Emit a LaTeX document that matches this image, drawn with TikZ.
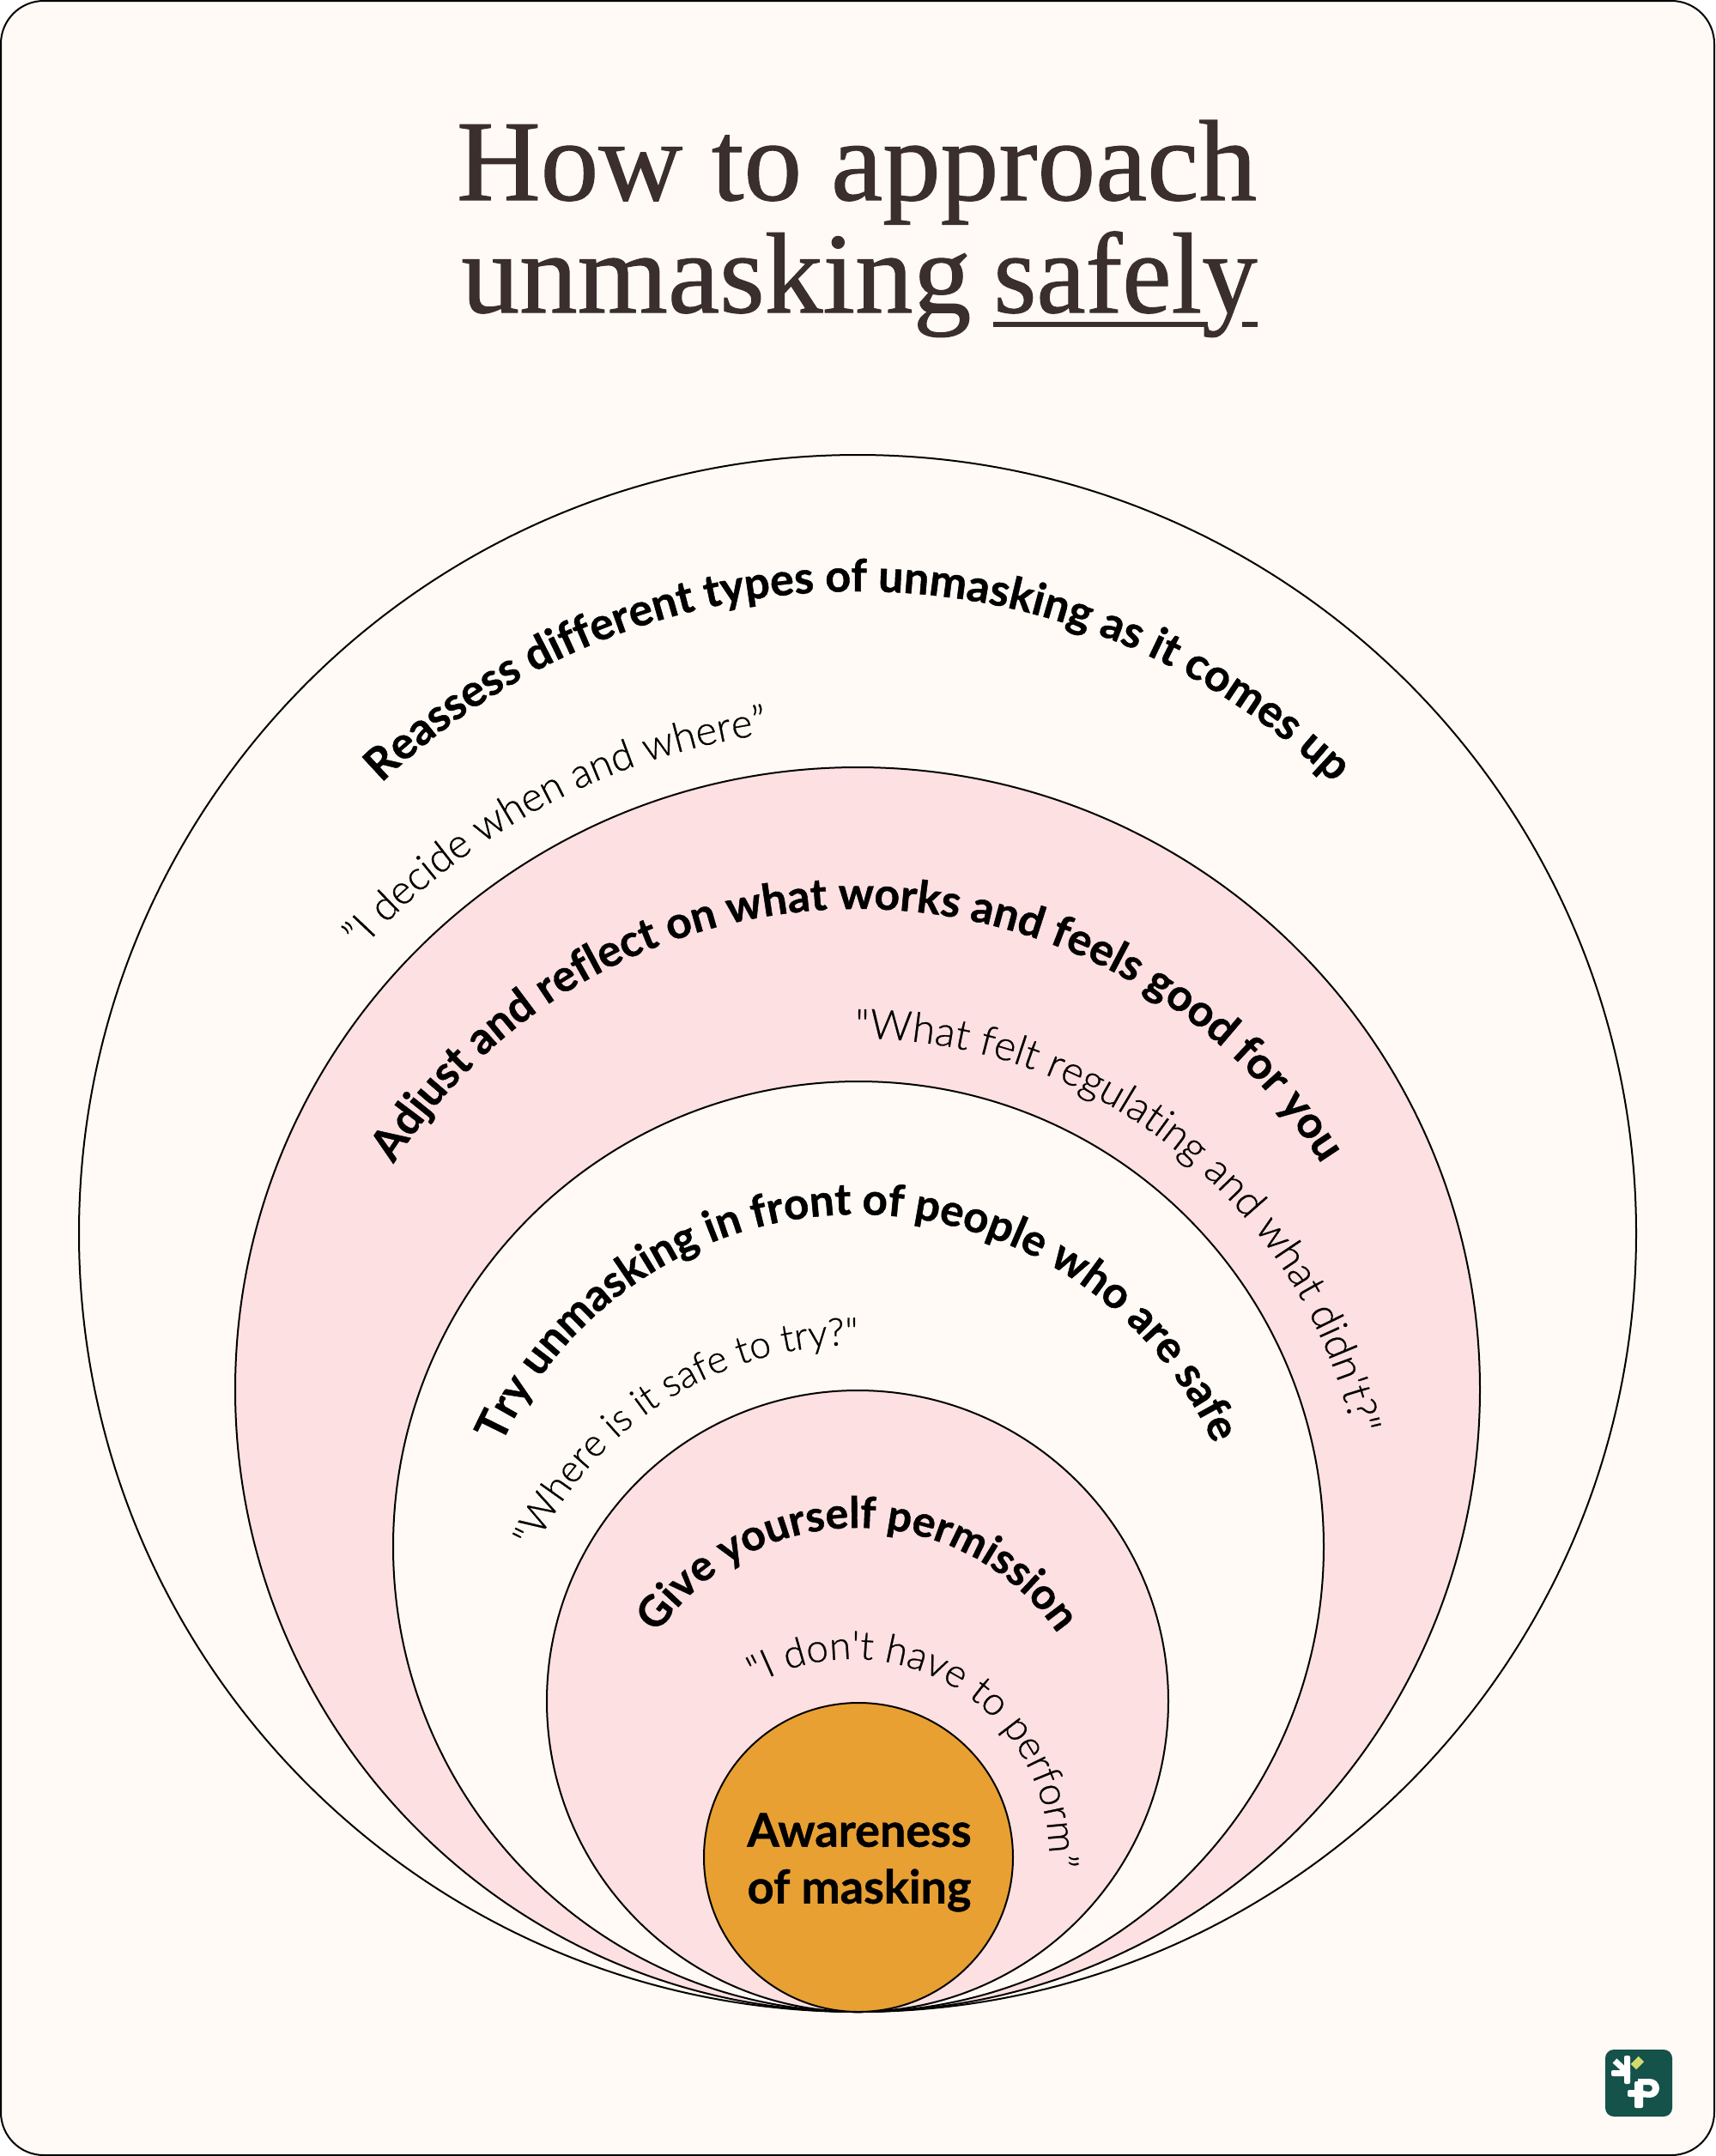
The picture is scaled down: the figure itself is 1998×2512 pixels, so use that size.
\documentclass[tikz,border=0pt]{standalone}
\usepackage{fontspec}
\usetikzlibrary{decorations.text}
\setmainfont[FakeBold=0.8]{Liberation Serif}
\newfontfamily\lblfont[UprightFont=* Bold,FakeBold=0.9]{Lato}
\newfontfamily\qfont[UprightFont=* Light,FakeBold=0.6]{Lato}
\definecolor{bgcream}{HTML}{FFFAF5}
\definecolor{ringpink}{HTML}{FDE0E1}
\definecolor{coreorange}{HTML}{E8A033}
\definecolor{titleink}{HTML}{3A2E2E}
\definecolor{logogreen}{HTML}{14524A}
\definecolor{logolime}{HTML}{D3DB6F}
\tikzset{
  ring/.style={draw=black,line width=1pt},
  bold arc/.style 2 args={decorate,decoration={text along path,text align=center,text={|\lblfont\fontsize{#1}{26}\selectfont|#2}}},
  quote arc/.style 2 args={decorate,decoration={text along path,text align=center,text={|\qfont\fontsize{#1}{24}\selectfont|#2}}},
  title text/.style={anchor=base,text=titleink,font=\fontsize{67}{67}\selectfont,inner sep=0pt},
}
\begin{document}
\begin{tikzpicture}[x=0.5pt,y=-0.5pt]
\useasboundingbox (0,0) rectangle (1998,2512);
\fill[white] (0,0) rectangle (1998,2512);
\draw[fill=bgcream,line width=1pt,rounded corners=25pt] (1,1) rectangle (1997,2511);
\node[title text,xscale=1.01] (t1) at (998,233) {How to approach};
\node[title text,anchor=base west,xscale=1.01] (t2) at (537,364) {unmasking};
\node[title text,anchor=base west,xscale=0.96] (t3) at (1157,364) {safely};
\fill[titleink] (1157,375) rectangle (1407,381);
\fill[titleink] (1447,375) rectangle (1465,381);
\node[circle,ring,fill=bgcream,minimum size=907pt,inner sep=0pt] (c1) at (999,1437) {};
\node[circle,ring,fill=ringpink,minimum size=725pt,inner sep=0pt] (c2) at (999,1619) {};
\node[circle,ring,fill=bgcream,minimum size=542pt,inner sep=0pt] (c3) at (1000,1802) {};
\node[circle,ring,fill=ringpink,minimum size=362pt,inner sep=0pt] (c4) at (999,1982) {};
\node[circle,ring,fill=coreorange,minimum size=180pt,inner sep=0pt] (c5) at (1000,2164) {};
\node[align=center,font=\lblfont\fontsize{27}{33}\selectfont,text=black] (core) at (1001,2170) {Awareness\\of masking};
% bold arcs
\path[bold arc={26}{Reassess different types of unmasking as it comes up}] (999-800,1489) arc[start angle=180,end angle=360,radius=800];
\path[bold arc={25.8}{Adjust and reflect on what works and feels good for you}] (999-640,1699) arc[start angle=180,end angle=360,radius=640];
\path[bold arc={25.5}{Try unmasking in front of people who are safe}] (999-455,1870) arc[start angle=180,end angle=360,radius=455];
\path[bold arc={25}{Give yourself permission}] (999-282,2062) arc[start angle=180,end angle=360,radius=282];
% quote arcs
\path[quote arc={23.7}{”I decide when and where”}] ({999+775*cos(214.5)},{1623+775*sin(214.5)}) arc[start angle=214.5,end angle=269.5,radius=775];
\path[quote arc={24}{"What felt regulating and what didn't?"}] ({999+592*cos(259.5)},{1802+592*sin(259.5)}) arc[start angle=259.5,end angle=357.5,radius=592];
\path[quote arc={22.3}{"Where is it safe to try?"}] ({999+415*cos(193)},{1982+415*sin(193)}) arc[start angle=193,end angle=282.4,radius=415];
\path[quote arc={23}{"I don't have to perform”}] ({993+229*cos(227)},{2162+229*sin(227)}) arc[start angle=227,end angle=377,radius=229];
% logo
\fill[logogreen,rounded corners=5pt] (1870,2388) rectangle (1948,2466);
\fill[white,rounded corners=1pt] (1892,2395) rectangle (1899,2428);
\fill[white,rounded corners=1pt] (1877,2412) rectangle (1899,2419);
\draw[white,line width=3.5pt] (1881,2401) -- (1896,2415);
\fill[white,rounded corners=1pt] (1904,2425) rectangle (1914,2456);
\fill[white,rounded corners=1pt] (1896,2435) rectangle (1915,2443);
\fill[white,even odd rule] (1908,2422) -- (1922,2422) arc[start angle=-90,end angle=90,radius=11] -- (1908,2443) -- cycle (1914,2429) -- (1921,2429) arc[start angle=-90,end angle=90,radius=4] -- (1914,2436) -- cycle;
\draw[logolime,line width=4.5pt] (1903,2408) -- (1912,2399);
\end{tikzpicture}
\end{document}
